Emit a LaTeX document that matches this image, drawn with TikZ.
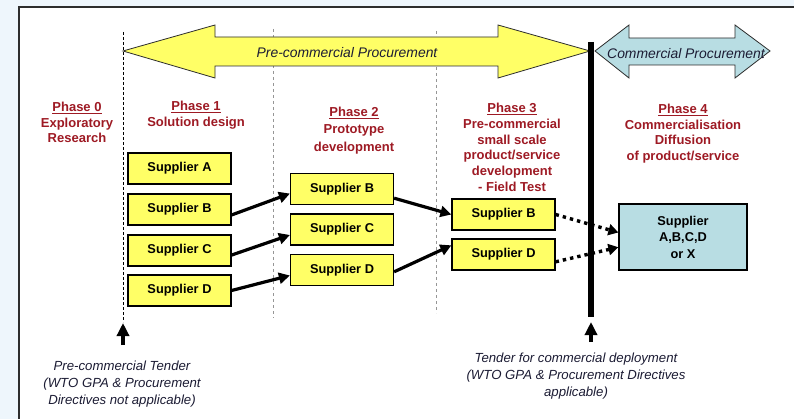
\documentclass[tikz,border=0pt]{standalone}
\usepackage{fontspec}
\setmainfont{Liberation Sans}
\usepackage{xcolor}
\usetikzlibrary{arrows.meta,positioning}

\definecolor{bgblue}{RGB}{238,246,252}
\definecolor{framegrey}{RGB}{45,45,45}
\definecolor{phasered}{RGB}{158,26,36}
\definecolor{boxyellow}{RGB}{255,255,102}
\definecolor{boxcyan}{RGB}{184,221,227}
\definecolor{inkblue}{RGB}{28,28,52}
\definecolor{dashgrey}{RGB}{150,150,150}

\tikzset{
    supplier/.style={draw, solid, minimum height=31pt, minimum width=103pt, fill=boxyellow, line width=1.2pt, rectangle, inner sep=0pt, font=\fontsize{12.8}{15}\selectfont\bfseries},
    phaselabel/.style={align=center, text=phasered, font=\fontsize{13}{15.7}\selectfont\bfseries},
    notelabel/.style={align=center, text=inkblue, font=\fontsize{13.2}{17}\selectfont\itshape},
    banner/.style={draw=framegrey, line width=0.8pt},
    flow/.style={-{Triangle[length=11pt,width=11pt]}, line width=3.2pt},
    dottedflow/.style={-{Triangle[length=10pt,width=11pt]}, line width=3.4pt, dash pattern=on 3.4pt off 4pt},
    tenderarrow/.style={-{Triangle[length=13pt,width=12pt]}, line width=4pt},
    phaseline/.style={line width=0.9pt, dash pattern=on 3pt off 3pt},
}

\begin{document}
\begin{tikzpicture}

        % Page and frame
        \clip (0pt,0pt) rectangle (794pt,-419pt);
        \fill[bgblue] (0pt,0pt) rectangle (794pt,-419pt);
        \filldraw[fill=white, draw=framegrey, line width=1.5pt] (19pt,-7pt) rectangle (820pt,-440pt);

        % Phase boundaries
        \coordinate (line0top) at (123pt,-32pt);
        \coordinate (line0bot) at (123pt,-322pt);
        \coordinate (line1top) at (273pt,-29pt);
        \coordinate (line1bot) at (273pt,-318pt);
        \coordinate (line2top) at (436pt,-31pt);
        \coordinate (line2bot) at (436pt,-313pt);
        \coordinate (commtop) at (591pt,-42pt);
        \coordinate (commbot) at (591pt,-317pt);
        \draw[phaseline, black, dash pattern=on 3pt off 2pt] (line0top) -- (line0bot);
        \draw[phaseline, dashgrey] (line1top) -- (line1bot);
        \draw[phaseline, dashgrey] (line2top) -- (line2bot);

        % Procurement arrows
        \filldraw[banner, fill=boxyellow] (123pt,-51pt) -- (215pt,-25pt) -- (215pt,-37pt) -- (498pt,-37pt) -- (498pt,-25pt) -- (590pt,-51pt) -- (498pt,-78pt) -- (498pt,-66pt) -- (215pt,-66pt) -- (215pt,-78pt) -- cycle;
        \filldraw[banner, fill=boxcyan] (595pt,-51pt) -- (629pt,-25pt) -- (629pt,-38pt) -- (735pt,-38pt) -- (735pt,-25pt) -- (770pt,-51pt) -- (735pt,-78pt) -- (735pt,-65pt) -- (629pt,-65pt) -- (629pt,-78pt) -- cycle;
        \node (precommercial) at (347pt,-53pt) [text=inkblue, font=\fontsize{13.9}{15}\selectfont\itshape] {Pre-commercial Procurement};
        \node (commercial) at (686pt,-54pt) [text=inkblue, font=\fontsize{13.9}{15}\selectfont\itshape] {Commercial Procurement};

        \draw[line width=6pt] (commtop) -- (commbot);

        % Phase headings
        \node (phase0) at (77pt,-122.5pt) [phaselabel] {\underline{Phase 0}\\Exploratory\\Research};
        \node (phase1) at (196pt,-115pt) [phaselabel] {\underline{Phase 1}\\Solution design};
        \node (phase2) at (354pt,-130.5pt) [phaselabel, font=\fontsize{13}{17.5}\selectfont\bfseries] {\underline{Phase 2}\\Prototype\\development};
        \node (phase3) at (512pt,-147.5pt) [phaselabel] {\underline{Phase 3}\\Pre-commercial\\small scale\\product/service\\development\\- Field Test};
        \node (phase4) at (683pt,-133.5pt) [phaselabel] {\underline{Phase 4}\\Commercialisation\\Diffusion\\of product/service};

        % Supplier nodes
        \node (designa) at (179.5pt,-168.5pt) [supplier] {Supplier A};
        \node (designb) at (179.5pt,-209.5pt) [supplier] {Supplier B};
        \node (designc) at (179.5pt,-250.5pt) [supplier] {Supplier C};
        \node (designd) at (179.5pt,-290.5pt) [supplier] {Supplier D};
        \node (prototypeb) at (342pt,-189pt) [supplier] {Supplier B};
        \node (prototypec) at (342pt,-229.5pt) [supplier] {Supplier C};
        \node (prototyped) at (342pt,-270pt) [supplier] {Supplier D};
        \node (fieldtestb) at (503.5pt,-214.5pt) [supplier] {Supplier B};
        \node (fieldtestd) at (503.5pt,-254.5pt) [supplier] {Supplier D};
        \node (diffusion) at (683pt,-237pt) [supplier, fill=boxcyan, minimum width=128pt, minimum height=66pt, align=center, font=\fontsize{12.8}{16.5}\selectfont\bfseries] {Supplier\\A,B,C,D\\or X};

        % Arrows
        \draw[flow] (designb.-6) -- (prototypeb.185);
        \draw[flow] (designc.-5) -- (prototypec.186);
        \draw[flow] (designd.east) -- (prototyped.186);
        \draw[flow] (prototypeb.-10) -- (fieldtestb.west);
        \draw[flow] (prototyped.-2) -- (fieldtestd.170);
        \draw[dottedflow] (fieldtestb.east) -- (diffusion.176);
        \draw[dottedflow] (fieldtestd.-8) -- (diffusion.189);

        % Tenders
        \coordinate (tender0foot) at (123pt,-345pt);
        \coordinate (tender0tip) at (123pt,-323pt);
        \coordinate (tender4foot) at (591pt,-342pt);
        \coordinate (tender4tip) at (591pt,-322pt);
        \draw[tenderarrow] (tender0foot) -- (tender0tip);
        \draw[tenderarrow] (tender4foot) -- (tender4tip);
        \node (precommtender) at (122pt,-384.5pt) [notelabel] {Pre-commercial Tender\\(WTO GPA \& Procurement\\Directives not applicable)};
        \node (commtender) at (576pt,-376pt) [notelabel] {Tender for commercial deployment\\(WTO GPA \& Procurement Directives\\applicable)};

\end{tikzpicture}
\end{document}
